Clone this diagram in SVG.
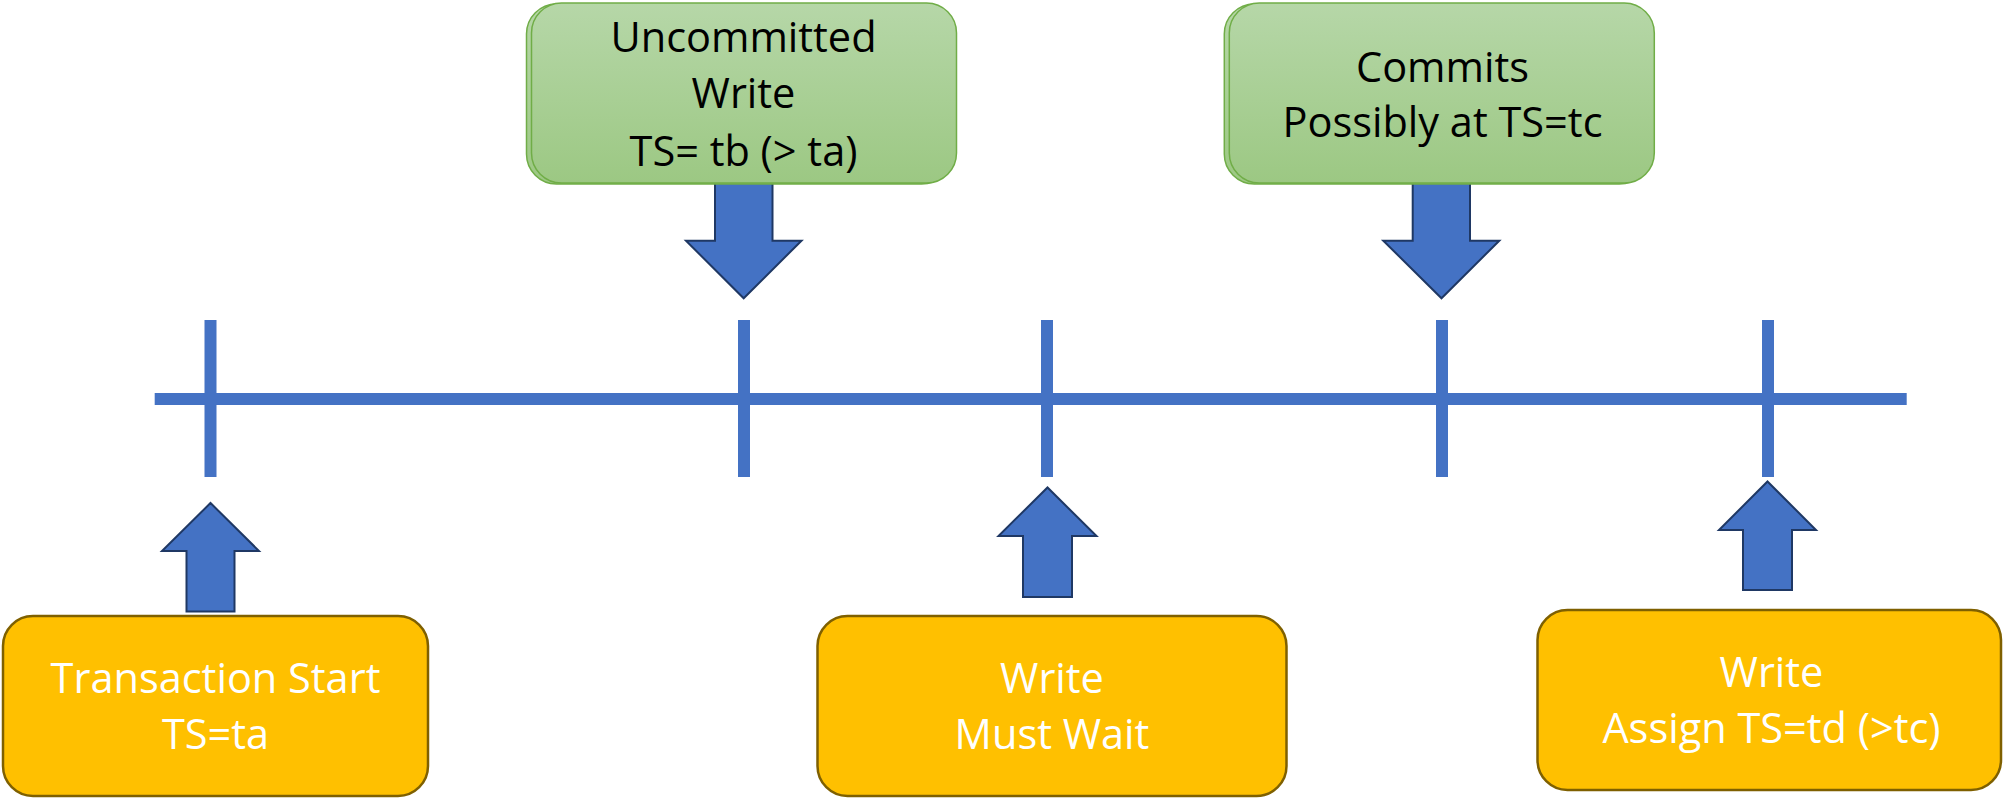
<svg xmlns="http://www.w3.org/2000/svg" width="2003" height="800" viewBox="0 0 2003 800">
  <defs>
    <linearGradient id="greenFill" x1="0" y1="0" x2="0" y2="1">
      <stop offset="0" stop-color="#B6D7A8"/>
      <stop offset="1" stop-color="#9CC883"/>
    </linearGradient>
    <style>
      .axis { fill: #4472C4; }
      .arrow { fill: #4472C4; stroke: #1F3864; stroke-width: 2; stroke-linejoin: miter; }
      .event { fill: #FFC000; stroke: #7F6000; stroke-width: 2.5; }
      .state { fill: url(#greenFill); stroke: #70AD47; stroke-width: 1.5; }
      .label { font-family: "Open Sans", "Noto Sans", sans-serif; font-size: 41.5px; text-anchor: middle; }
      .dark { fill: #000000; }
      .light { fill: #FFFFFF; }
    </style>
  </defs>
  <rect width="2003" height="800" fill="#FFFFFF"/>

  <!-- timeline with tick marks -->
  <g id="timeline">
    <rect class="axis" x="154.7" y="393" width="1752" height="12"/>
    <rect class="axis" x="204.5" y="320" width="12" height="157"/>
    <rect class="axis" x="738" y="320" width="12" height="157"/>
    <rect class="axis" x="1041" y="320" width="12" height="157"/>
    <rect class="axis" x="1436" y="320" width="12" height="157"/>
    <rect class="axis" x="1762" y="320" width="12" height="157"/>
  </g>

  <!-- block arrows pointing at the timeline -->
  <g id="connectors">
    <polygon class="arrow" points="715,180 772.5,180 772.5,240.7 801.5,240.7 743.7,298.3 686,240.7 715,240.7"/>
    <polygon class="arrow" points="1412.7,180 1470,180 1470,240.7 1499.3,240.7 1441.5,298.3 1383.3,240.7 1412.7,240.7"/>
    <polygon class="arrow" points="186.5,611.5 234.5,611.5 234.5,551 259,551 210.5,503 162,551 186.5,551"/>
    <polygon class="arrow" points="1023,597 1072,597 1072,536 1096.5,536 1047.5,487.5 998.5,536 1023,536"/>
    <polygon class="arrow" points="1743,590 1792,590 1792,530 1816,530 1767.5,481.5 1719,530 1743,530"/>
  </g>

  <g id="uncommitted-write">
    <rect class="state" x="526.5" y="4" width="425" height="180" rx="30" ry="30"/>
    <rect class="state" x="531.5" y="3" width="425" height="180" rx="30" ry="30"/>
    <text class="label dark" x="743.5" y="51.7">Uncommitted</text>
    <text class="label dark" x="743.5" y="108.3">Write</text>
    <text class="label dark" x="743.5" y="165.7">TS= tb (&gt; ta)</text>
  </g>

  <g id="commits">
    <rect class="state" x="1224.3" y="4" width="425" height="180" rx="30" ry="30"/>
    <rect class="state" x="1229.3" y="3" width="425" height="180" rx="30" ry="30"/>
    <text class="label dark" x="1442.5" y="81.7">Commits</text>
    <text class="label dark" x="1442.5" y="136.7">Possibly at TS=tc</text>
  </g>

  <g id="transaction-start">
    <rect class="event" x="3" y="616" width="425" height="180" rx="30" ry="30"/>
    <text class="label light" x="215.5" y="693.3">Transaction Start</text>
    <text class="label light" x="215.5" y="749.3">TS=ta</text>
  </g>

  <g id="write-must-wait">
    <rect class="event" x="817.5" y="616" width="469" height="180" rx="30" ry="30"/>
    <text class="label light" x="1052" y="693.3">Write</text>
    <text class="label light" x="1052" y="749.3">Must Wait</text>
  </g>

  <g id="write-assign">
    <rect class="event" x="1537.5" y="610" width="463.5" height="180" rx="30" ry="30"/>
    <text class="label light" x="1771.5" y="687.3">Write</text>
    <text class="label light" x="1771.5" y="742.7">Assign TS=td (&gt;tc)</text>
  </g>
</svg>
